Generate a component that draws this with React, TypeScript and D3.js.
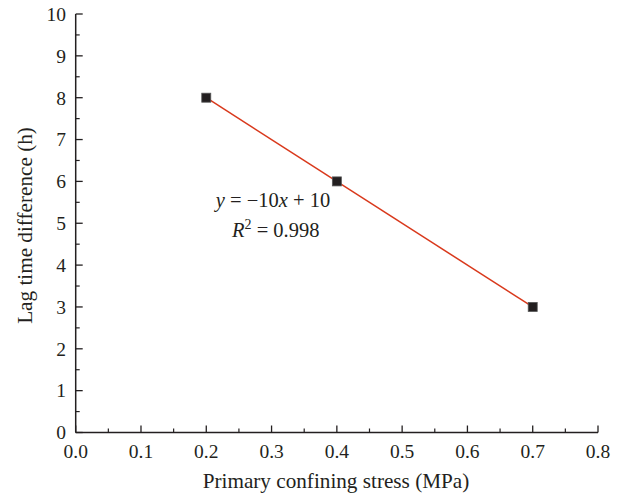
import React from "react";
import * as d3 from "d3";

const stress = [0.2, 0.4, 0.7];
const lagDiff = [8, 6, 3];
const fitSlope = -10;
const fitIntercept = 10;
const xTickValues = [0, 0.1, 0.2, 0.3, 0.4, 0.5, 0.6, 0.7, 0.8];
const yTickValues = [0, 1, 2, 3, 4, 5, 6, 7, 8, 9, 10];
const xLabel = "Primary confining stress (MPa)";
const yLabel = "Lag time difference (h)";

const W = 624;
const H = 498;
const left = 75.7;
const right = 598;
const top = 14;
const bottom = 432.5;
const ink = "#231f20";
const font = "'Liberation Serif', 'Times New Roman', serif";

export default function App() {
  const x = d3.scaleLinear().domain([0, 0.8]).range([left, right]);
  const y = d3.scaleLinear().domain([0, 10]).range([bottom, top]);
  const xMinor = d3.range(0.05, 0.8, 0.1);
  const yMinor = d3.range(0.5, 10, 1);
  const x0 = d3.min(stress)!;
  const x1 = d3.max(stress)!;
  const line = d3.line<number>().x((d) => x(d)).y((d) => y(fitSlope * d + fitIntercept));
  const fs = 19.5;
  const tfs = 21.2;
  return (
    <svg width={W} height={H} style={{ position: "absolute", left: 0, top: 0, background: "#fff" }} fontFamily={font}>
      <rect width={W} height={H} fill="#fff" />
      <line x1={left} x2={left} y1={top} y2={bottom} stroke={ink} strokeWidth={1.5} />
      <line x1={left} x2={right} y1={bottom} y2={bottom} stroke={ink} strokeWidth={1.5} />
      {yTickValues.map((t) => (
        <g key={"y" + t}>
          <line x1={left} x2={left + 7} y1={y(t)} y2={y(t)} stroke={ink} strokeWidth={1.3} />
          <text x={66} y={y(t)} dy="0.35em" textAnchor="end" fontSize={fs} fill={ink}>
            {t}
          </text>
        </g>
      ))}
      {yMinor.map((t) => (
        <line key={"ym" + t} x1={left} x2={left + 4} y1={y(t)} y2={y(t)} stroke={ink} strokeWidth={1.2} />
      ))}
      {xTickValues.map((t) => (
        <g key={"x" + t}>
          <line x1={x(t)} x2={x(t)} y1={bottom} y2={bottom - 7} stroke={ink} strokeWidth={1.3} />
          <text x={x(t)} y={457.5} textAnchor="middle" fontSize={fs} fill={ink}>
            {t.toFixed(1)}
          </text>
        </g>
      ))}
      {xMinor.map((t) => (
        <line key={"xm" + t} x1={x(t)} x2={x(t)} y1={bottom} y2={bottom - 4} stroke={ink} strokeWidth={1.2} />
      ))}
      <text x={336} y={488} textAnchor="middle" fontSize={tfs} fill={ink}>
        {xLabel}
      </text>
      <text transform={`translate(32, 225.5) rotate(-90)`} textAnchor="middle" fontSize={tfs} fill={ink}>
        {yLabel}
      </text>
      <path d={line([x0, x1]) || ""} stroke="#d9391c" strokeWidth={1.5} fill="none" />
      {stress.map((s, i) => (
        <rect key={"m" + i} x={x(s) - 4.5} y={y(lagDiff[i]) - 4.5} width={9} height={9} fill={ink} stroke="#555" strokeWidth={0.8} />
      ))}
      <text x={273} y={207} textAnchor="middle" fontSize={20.5} fill={ink}>
        <tspan fontStyle="italic">y</tspan>
        <tspan> = −10</tspan>
        <tspan fontStyle="italic">x</tspan>
        <tspan> + 10</tspan>
      </text>
      <text x={232} y={237} textAnchor="start" fontSize={20.5} fill={ink}>
        <tspan fontStyle="italic">R</tspan>
        <tspan fontSize={14} dy={-8}>2</tspan>
        <tspan dy={8}> = 0.998</tspan>
      </text>
    </svg>
  );
}
